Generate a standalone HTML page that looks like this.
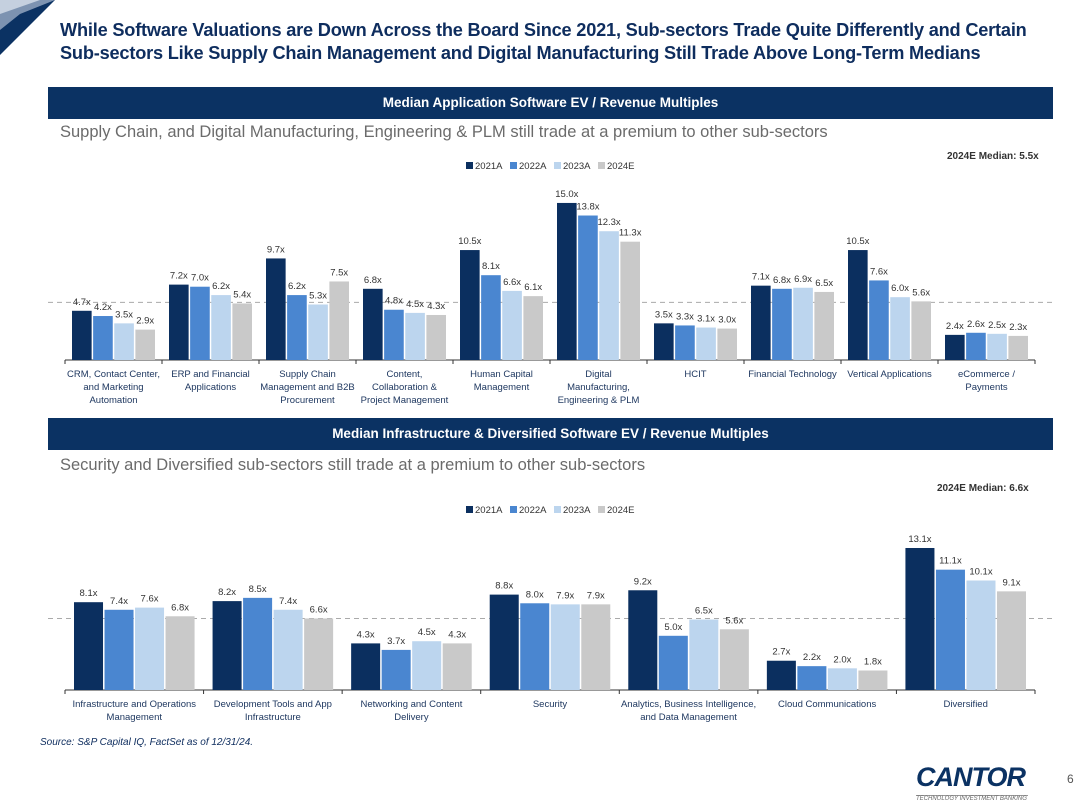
<!DOCTYPE html>
<html><head><meta charset="utf-8"><style>
body{margin:0;width:1080px;height:812px;background:#fff;font-family:"Liberation Sans",sans-serif;position:relative;overflow:hidden}
.t{position:absolute;left:60px;top:19px;font-size:18.2px;font-weight:bold;color:#0e2d5e;line-height:23px;letter-spacing:-0.2px;white-space:nowrap}
.band{position:absolute;left:48px;width:1005px;height:32px;background:#0b3263;color:#fff;font-weight:bold;font-size:13.5px;text-align:center;line-height:32px}
.sub{position:absolute;left:60px;font-size:16.5px;color:#6b6b6b;white-space:nowrap}
.med{position:absolute;font-size:10px;font-weight:bold;color:#333}
</style></head><body>
<svg style="position:absolute;left:0;top:0" width="60" height="60"><polygon points="0,0 55,0 0,55" fill="#0b3263"/><polygon points="0,0 55,0 20,14 0,30" fill="#7d93b1"/><polygon points="0,0 40,0 0,14" fill="#c5d0df"/></svg>
<div class="t">While Software Valuations are Down Across the Board Since 2021, Sub-sectors Trade Quite Differently and Certain<br>Sub-sectors Like Supply Chain Management and Digital Manufacturing Still Trade Above Long-Term Medians</div>
<div class="band" style="top:87px">Median Application Software EV / Revenue Multiples</div>
<div class="sub" style="top:123px">Supply Chain, and Digital Manufacturing, Engineering &amp; PLM still trade at a premium to other sub-sectors</div>
<div class="med" style="left:947px;top:151px">2024E Median: 5.5x</div>
<div class="band" style="top:418px">Median Infrastructure &amp; Diversified Software EV / Revenue Multiples</div>
<div class="sub" style="top:456px">Security and Diversified sub-sectors still trade at a premium to other sub-sectors</div>
<div class="med" style="left:937px;top:483px">2024E Median: 6.6x</div>
<div style="position:absolute;left:40px;top:737px;font-size:10px;font-style:italic;color:#0e2d5e">Source: S&amp;P Capital IQ, FactSet as of 12/31/24.</div>
<div style="position:absolute;left:916px;top:762px;font-size:27px;font-weight:bold;font-style:italic;color:#0b3263;letter-spacing:-1px">CANTOR</div>
<div style="position:absolute;left:916px;top:795px;font-size:6px;font-style:italic;color:#666;border-top:1px solid #999;width:112px;white-space:nowrap">TECHNOLOGY INVESTMENT BANKING</div>
<div style="position:absolute;left:1067px;top:772px;font-size:12px;color:#555">6</div>
<svg id="c" width="1080" height="812" style="position:absolute;left:0;top:0"></svg>
<script>
const series=["2021A","2022A","2023A","2024E"];
const colors=["#0b2f5f","#4a86d0","#bcd5ee","#c9c9c9"];
const cats1=[["CRM, Contact Center,","and Marketing","Automation"],["ERP and Financial","Applications"],["Supply Chain","Management and B2B","Procurement"],["Content,","Collaboration &","Project Management"],["Human Capital","Management"],["Digital","Manufacturing,","Engineering & PLM"],["HCIT"],["Financial Technology"],["Vertical Applications"],["eCommerce /","Payments"]];
const v2021a=[4.7,7.2,9.7,6.8,10.5,15.0,3.5,7.1,10.5,2.4];
const v2022a=[4.2,7.0,6.2,4.8,8.1,13.8,3.3,6.8,7.6,2.6];
const v2023a=[3.5,6.2,5.3,4.5,6.6,12.3,3.1,6.9,6.0,2.5];
const v2024e=[2.9,5.4,7.5,4.3,6.1,11.3,3.0,6.5,5.6,2.3];
const median1=5.5;
const cats2=[["Infrastructure and Operations","Management"],["Development Tools and App","Infrastructure"],["Networking and Content","Delivery"],["Security"],["Analytics, Business Intelligence,","and Data Management"],["Cloud Communications"],["Diversified"]];
const w2021a=[8.1,8.2,4.3,8.8,9.2,2.7,13.1];
const w2022a=[7.4,8.5,3.7,8.0,5.0,2.2,11.1];
const w2023a=[7.6,7.4,4.5,7.9,6.5,2.0,10.1];
const w2024e=[6.8,6.6,4.3,7.9,5.6,1.8,9.1];
const median2=6.6;
const svg=document.getElementById('c');const NS='http://www.w3.org/2000/svg';
function mk(t,a,txt){const e=document.createElementNS(NS,t);for(const k in a)e.setAttribute(k,a[k]);if(txt!=null)e.textContent=txt;svg.appendChild(e);return e;}
function chart(p){
 const x0=65,x1=1035,n=p.cats.length,gw=(x1-x0)/n;
 const y=v=>p.base-v*p.k;
 const ln=mk('line',{x1:x0,x2:x1,y1:p.base,y2:p.base,stroke:'#333','stroke-width':1});
 
 const md=mk('line',{x1:48,x2:1053,y1:y(p.median),y2:y(p.median),stroke:'#aaa','stroke-dasharray':'5,4'});
 
 for(let i=0;i<=n;i++){const t=mk('line',{x1:x0+i*gw,x2:x0+i*gw,y1:p.base,y2:p.base+4,stroke:'#333'});}
 const pad=p.pad,bw=(gw-2*pad-3*p.gap)/4;
 p.vals.forEach((arr,s)=>{arr.forEach((v,i)=>{
  const bx=x0+i*gw+pad+s*(bw+p.gap);
  const r=mk('rect',{x:bx,y:y(v),width:bw,height:v*p.k,fill:colors[s]});
  
  const l=mk('text',{x:bx+bw/2,y:y(v)-6,'font-size':p.fs,'text-anchor':'middle',fill:'#333','font-family':'Liberation Sans'},v.toFixed(1)+'x');
  
 });});
 p.cats.forEach((c,i)=>{c.forEach((s,j)=>{const t=mk('text',{x:x0+(i+.5)*gw,y:p.base+17+j*13,'font-size':9.5,'text-anchor':'middle',fill:'#1f3860','font-family':'Liberation Sans'},s);});});
 let lx=p.lx;series.forEach((s,i)=>{
  const r=mk('rect',{x:lx,y:p.ly-7,width:7,height:7,fill:colors[i]});
  const t=mk('text',{x:lx+9,y:p.ly,'font-size':9.5,fill:'#333','font-family':'Liberation Sans'},s);
  lx+=44;});
}
chart({id:'app',cats:cats1,vals:[v2021a,v2022a,v2023a,v2024e],base:360,k:10.47,median:median1,pad:7,gap:1.5,fs:9.5,lx:466,ly:169});
chart({id:'infra',cats:cats2,vals:[w2021a,w2022a,w2023a,w2024e],base:690,k:10.84,median:median2,pad:9,gap:1.5,fs:9.5,lx:466,ly:513});
</script>
</body></html>
